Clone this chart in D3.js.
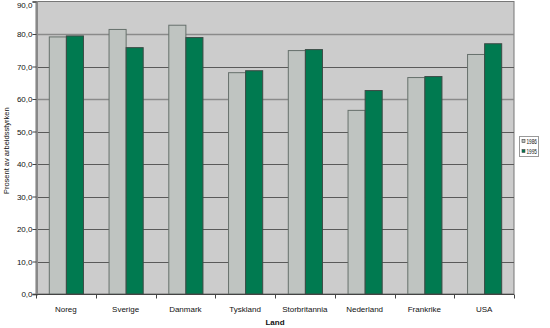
<!DOCTYPE html>
<html><head><meta charset="utf-8">
<script src="https://cdn.jsdelivr.net/npm/d3@7"></script>
<style>body{margin:0;background:#fff;}svg{display:block;font-family:"Liberation Sans",Arial,sans-serif;}</style>
</head><body>
<svg id="c" width="550" height="328"></svg>
<script>
const categories = ["Noreg","Sverige","Danmark","Tyskland","Storbritannia","Nederland","Frankrike","USA"];
const seriesNames = ["1986","1995"];
const values1986 = [79.1, 81.4, 82.7, 68.1, 74.9, 56.5, 66.6, 73.7];
const values1995 = [79.4, 75.8, 78.9, 68.7, 75.2, 62.6, 66.9, 77.0];
const yTicks = [0,10,20,30,40,50,60,70,80,90];
const colors = ["#bfc4c1", "#007a50"];

const svg = d3.select("#c");
const L = 36, R = 514, T = 1.5, B = 294;
const x = d3.scaleBand().domain(categories).range([L, R]);
const x1 = d3.scaleBand().domain(seriesNames).range([0, x.bandwidth()]).paddingOuter(0.75).paddingInner(0);
const y = d3.scaleLinear().domain([0, 90]).range([B, T]);

svg.append("rect").attr("x", L).attr("y", T).attr("width", R - L).attr("height", B - T)
  .attr("fill", "#cccccc").attr("stroke", "#777").attr("stroke-width", 1);

svg.append("g").selectAll("line").data(yTicks.filter(d => d > 0 && d < 90)).join("line")
  .attr("x1", L).attr("x2", R).attr("y1", d => Math.round(y(d)) + 0.5).attr("y2", d => Math.round(y(d)) + 0.5)
  .attr("stroke", d => (d === 80 || d === 60) ? "#8a8a8a" : "#5a5a5a").attr("stroke-width", d => (d === 80 || d === 60) ? 1.6 : 1);

const data = categories.map((c, i) => ({c, v: [values1986[i], values1995[i]]}));
const g = svg.append("g").selectAll("g").data(data).join("g").attr("transform", d => `translate(${x(d.c)},0)`);
g.selectAll("rect").data(d => d.v.map((v, j) => ({s: seriesNames[j], v, j}))).join("rect")
  .attr("x", d => x1(d.s) + 0.5).attr("width", x1.bandwidth())
  .attr("y", d => y(d.v)).attr("height", d => B - y(d.v))
  .attr("fill", d => colors[d.j]).attr("stroke", d => d.j === 0 ? "#66706c" : "#3c4a45").attr("stroke-width", 1);

// axes
const yAxis = d3.axisLeft(y).tickValues(yTicks).tickSize(4).tickFormat(d => d3.format(".1f")(d).replace(".", ","));
const ya = svg.append("g").attr("transform", `translate(${L + 0.5},0)`).call(yAxis);
ya.select(".domain").attr("stroke", "#888").attr("stroke-width", 2);
ya.selectAll(".tick line").attr("stroke", "#444");
ya.selectAll("text").attr("font-size", 8).attr("fill", "#111").attr("x", -4)
  .attr("dy", d => d === 90 ? "0.75em" : "0.32em");

const xa = svg.append("g").attr("transform", `translate(0,${B + 0.5})`);
xa.append("line").attr("x1", L).attr("x2", R).attr("stroke", "#444");
xa.selectAll("line.t").data(d3.range(categories.length + 1)).join("line").attr("class", "t")
  .attr("x1", i => Math.round(L + i * x.step()) + 0.5).attr("x2", i => Math.round(L + i * x.step()) + 0.5)
  .attr("y1", 0).attr("y2", 4).attr("stroke", "#444");
xa.selectAll("text").data(categories).join("text")
  .attr("x", d => x(d) + x.bandwidth() / 2).attr("y", 17).attr("text-anchor", "middle")
  .attr("font-size", 8).attr("fill", "#111").text(d => d);

svg.append("text").attr("x", (L + R) / 2).attr("y", 325).attr("text-anchor", "middle")
  .attr("font-size", 8).attr("font-weight", "bold").attr("fill", "#111").text("Land");
svg.append("text").attr("transform", `translate(8.5,${(T + B) / 2 + 3}) rotate(-90)`).attr("text-anchor", "middle")
  .attr("font-size", 7.5).attr("fill", "#111").text("Prosent av arbeidsstyrken");

// legend
const lg = svg.append("g").attr("transform", "translate(519,136)");
lg.append("rect").attr("x", 0.5).attr("y", 0.5).attr("width", 19).attr("height", 20).attr("fill", "#fff").attr("stroke", "#999");
seriesNames.forEach((s, i) => {
  lg.append("rect").attr("x", 3).attr("y", 3.5 + i * 10).attr("width", 3).attr("height", 3)
    .attr("fill", colors[i]).attr("stroke", "#444").attr("stroke-width", 0.6);
  lg.append("text").attr("x", 7.5).attr("y", 7.5 + i * 10).attr("font-size", 6.5).attr("fill", "#111")
    .attr("textLength", 10.5).attr("lengthAdjust", "spacingAndGlyphs").text(s);
});
</script>
</body></html>
